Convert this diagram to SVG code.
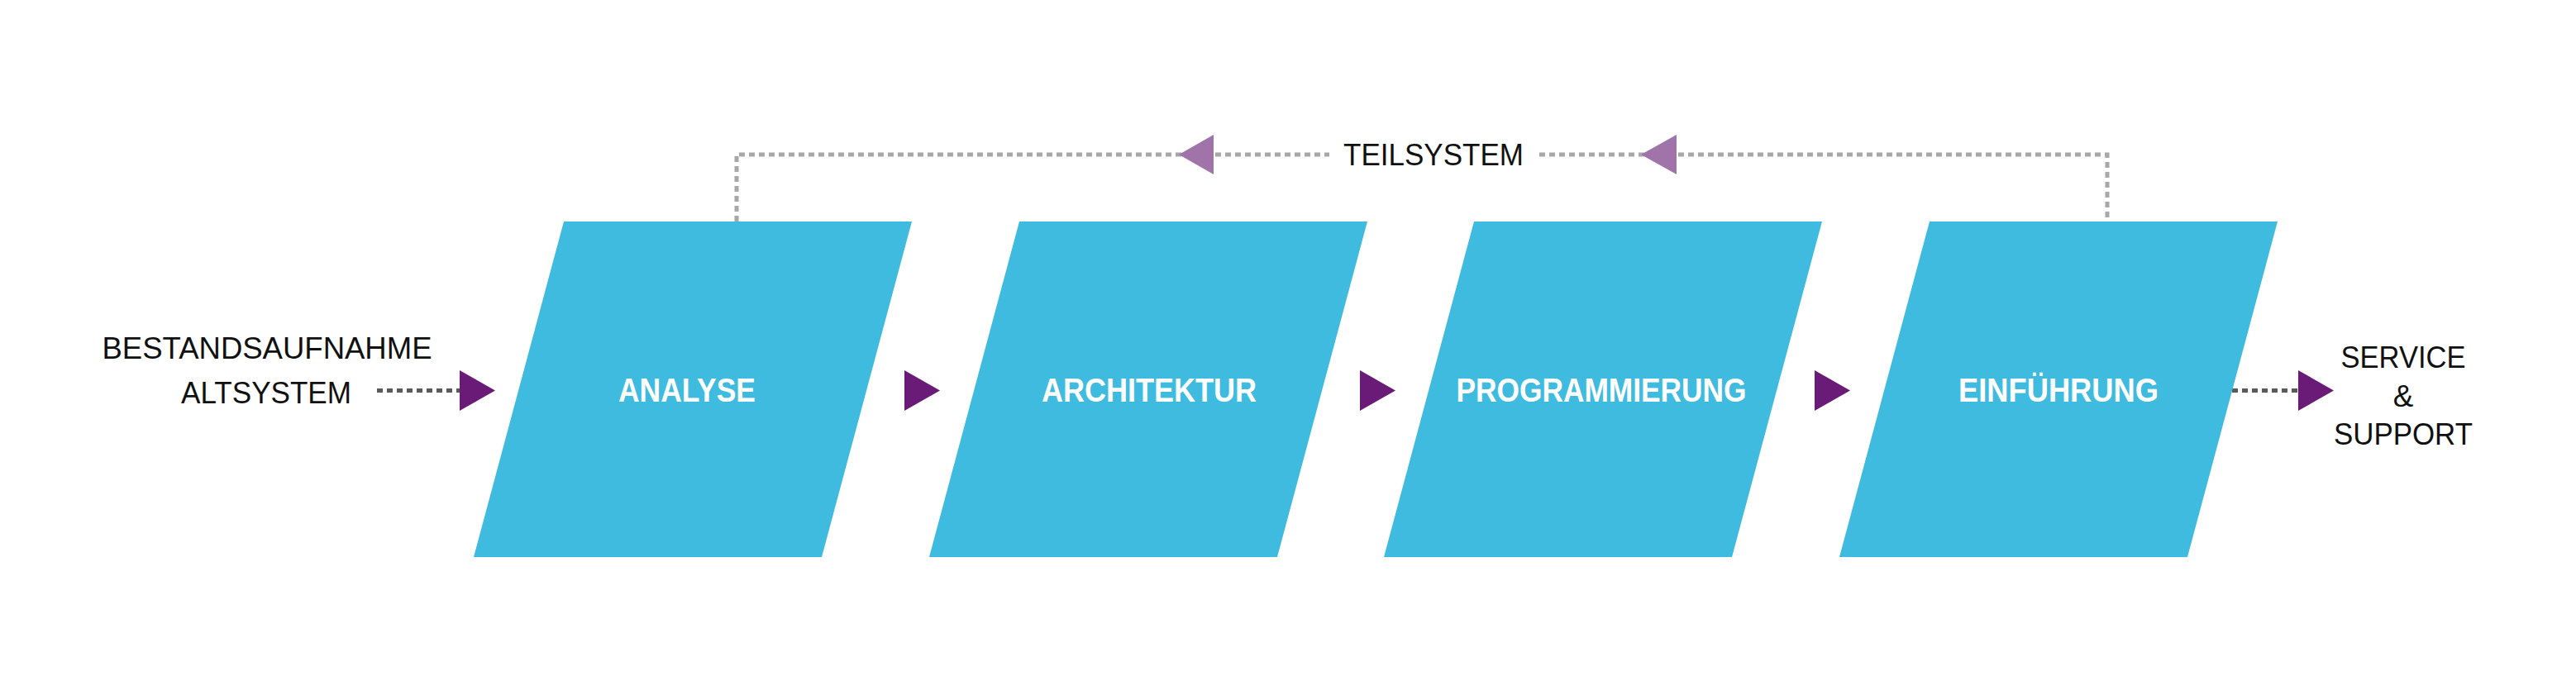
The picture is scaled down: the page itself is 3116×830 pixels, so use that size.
<svg xmlns="http://www.w3.org/2000/svg" width="3116" height="830" viewBox="0 0 3116 830">
  <style>
    .node { fill: #3FBBDF; }
    .label { font-family: "Liberation Sans", Arial, sans-serif; font-weight: bold; font-size: 40px; fill: #FFFFFF; text-anchor: middle; }
    .txt { font-family: "Liberation Sans", Arial, sans-serif; font-size: 37px; fill: #111111; text-anchor: middle; }
    .arrow { fill: #6A1B78; }
    .farrow { fill: #A074A9; }
    .dotgray { fill: none; stroke: #A8A8A8; stroke-width: 5; stroke-dasharray: 7 5; }
    .dotdark { fill: none; stroke: #5A5A5A; stroke-width: 5; stroke-dasharray: 7 5; }
  </style>
  <rect width="3116" height="830" fill="#FFFFFF"/>

  <g id="connectors">
    <!-- feedback loop -->
    <path class="dotgray" d="M891,268 V187 H1608"/>
    <path class="dotgray" d="M1862,187 H2549 V268"/>
    <polygon class="farrow" points="1426,187 1468,163 1468,211"/>
    <polygon class="farrow" points="1985,187 2028,163 2028,211"/>
    <!-- input -->
    <path class="dotdark" d="M456,472.5 H556"/>
    <polygon class="arrow" points="556,448 599,472.5 556,497"/>
    <!-- between nodes -->
    <polygon class="arrow" points="1094,448 1137,472.5 1094,497"/>
    <polygon class="arrow" points="1645,448 1688,472.5 1645,497"/>
    <polygon class="arrow" points="2195,448 2238,472.5 2195,497"/>
    <!-- output -->
    <path class="dotdark" d="M2700,472.5 H2780"/>
    <polygon class="arrow" points="2780,448 2823,472.5 2780,497"/>
  </g>

  <g id="node-analyse">
    <polygon class="node" points="682,268 1103,268 994,674 573,674"/>
    <text class="label" x="831" y="486" textLength="166" lengthAdjust="spacingAndGlyphs">ANALYSE</text>
  </g>
  <g id="node-architektur">
    <polygon class="node" points="1233,268 1654,268 1545,674 1124,674"/>
    <text class="label" x="1390" y="486" textLength="260" lengthAdjust="spacingAndGlyphs">ARCHITEKTUR</text>
  </g>
  <g id="node-programmierung">
    <polygon class="node" points="1783,268 2204,268 2095,674 1674,674"/>
    <text class="label" x="1937" y="486" textLength="351" lengthAdjust="spacingAndGlyphs">PROGRAMMIERUNG</text>
  </g>
  <g id="node-einfuehrung">
    <polygon class="node" points="2334,268 2755,268 2646,674 2225,674"/>
    <text class="label" x="2490" y="486" textLength="242" lengthAdjust="spacingAndGlyphs">EINFÜHRUNG</text>
  </g>

  <g id="label-teilsystem">
    <text class="txt" x="1734" y="200" textLength="218" lengthAdjust="spacingAndGlyphs">TEILSYSTEM</text>
  </g>
  <g id="node-bestandsaufnahme">
    <text class="txt" x="323" y="434" textLength="399" lengthAdjust="spacingAndGlyphs">BESTANDSAUFNAHME</text>
    <text class="txt" x="322" y="488" textLength="206" lengthAdjust="spacingAndGlyphs">ALTSYSTEM</text>
  </g>
  <g id="node-service">
    <text class="txt" x="2907" y="445" textLength="151" lengthAdjust="spacingAndGlyphs">SERVICE</text>
    <text class="txt" x="2907" y="492">&amp;</text>
    <text class="txt" x="2907" y="538" textLength="168" lengthAdjust="spacingAndGlyphs">SUPPORT</text>
  </g>
</svg>
